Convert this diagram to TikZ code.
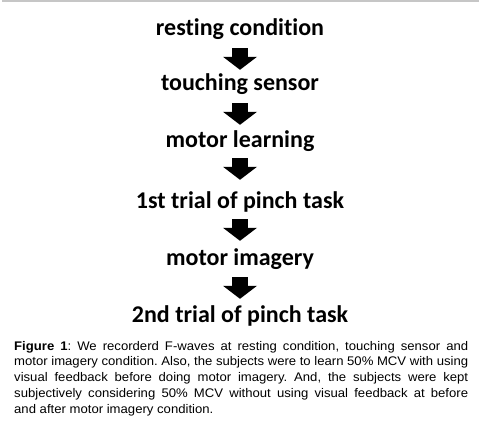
\documentclass[tikz,border=0pt]{standalone}
\usepackage{fontspec}
\setmainfont{Carlito}[RawFeature={-liga;-clig;-dlig}]
\newfontfamily\capfont{Liberation Sans}[FakeStretch=1.05]
\usetikzlibrary{arrows.meta}
\newcommand{\capline}[1]{\makebox[454pt][s]{#1}}
\begin{document}
\begin{tikzpicture}[x=1pt,y=-1pt,
  stepnode/.style={inner sep=0pt,anchor=base,text height=17pt,text depth=5pt,
    font=\fontsize{24}{28}\selectfont\bfseries},
  blockarrow/.style={line width=16pt,
    -{Triangle[width=34pt,length=13pt,line width=0pt]}},
  captionnode/.style={inner sep=0pt,anchor=base west}]
\useasboundingbox (0,0) rectangle (482,428);
\draw[gray!45,line width=2pt] (2,1) -- (479,1);
\node[stepnode] (r) at (240,36) {rest\kern0pt ing condit\kern0pt ion};
\node[stepnode] (t) at (240,91) {touching sensor};
\node[stepnode] (m) at (240,147) {motor learning};
\node[stepnode] (f) at (240,208) {1st trial of pinch task};
\node[stepnode] (i) at (240,265) {motor imagery};
\node[stepnode] (s) at (240,322) {2nd trial of pinch task};
\draw[blockarrow,shorten <=7pt,shorten >=4pt] (r.south) -- (t.north);
\draw[blockarrow,shorten <=7pt,shorten >=5pt] (t.south) -- (m.north);
\draw[blockarrow,shorten <=6pt,shorten >=11pt] (m.south) -- (f.north);
\draw[blockarrow,shorten <=6pt,shorten >=7pt] (f.south) -- (i.north);
\draw[blockarrow,shorten <=7pt,shorten >=6pt] (i.south) -- (s.north);
\node[captionnode] (cap) at (14,350) {\parbox[t]{454pt}{\capfont\fontsize{12.5}{15.8}\selectfont\frenchspacing\parindent=0pt
\capline{\textbf{Figure 1}: We recorderd F-waves at resting condition, touching sensor and}\par
\capline{motor imagery condition. Also, the subjects were to learn 50\% MCV with using}\par
\capline{visual feedback before doing motor imagery. And, the subjects were kept}\par
\capline{subjectively considering 50\% MCV without using visual feedback at before}\par
and after motor imagery condition.}};
\end{tikzpicture}
\end{document}
